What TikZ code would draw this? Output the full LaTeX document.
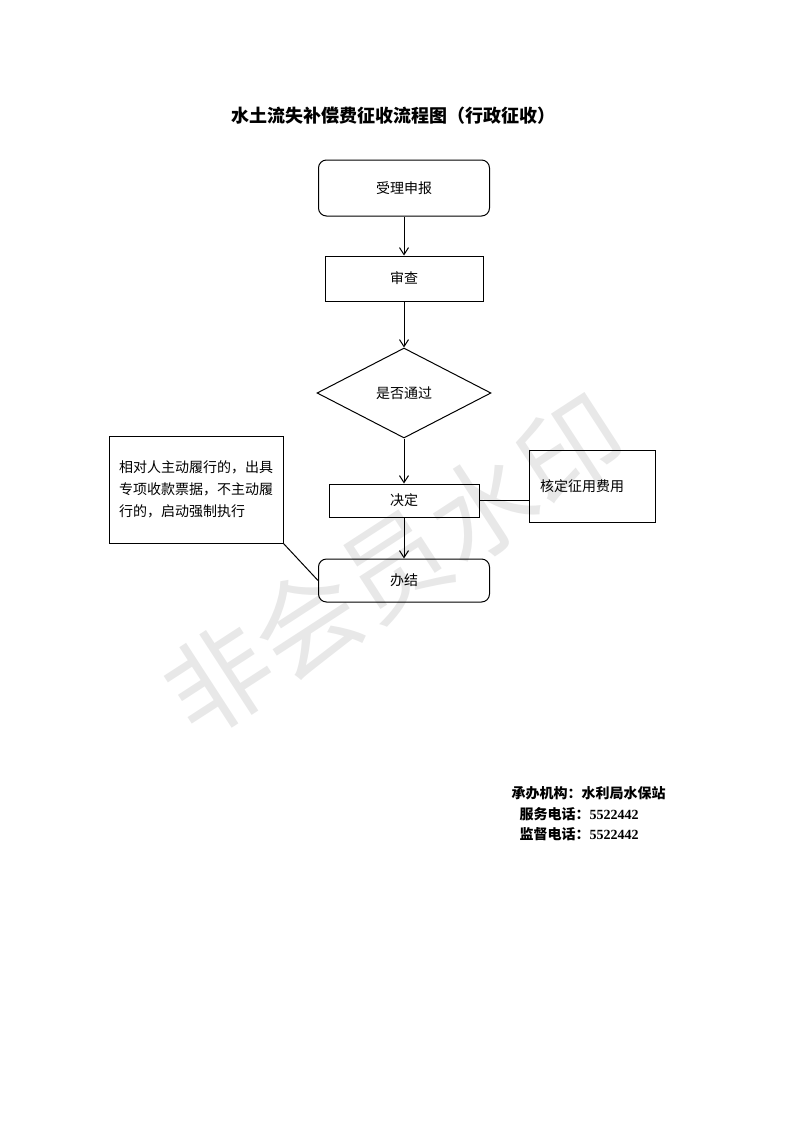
\documentclass[tikz,border=0pt]{standalone}
\usepackage{fontspec}
\setmainfont{Liberation Serif}
\newfontfamily\cjk{Noto Sans CJK SC}
\usetikzlibrary{positioning,arrows.meta,shapes.geometric}

\begin{document}
\begin{tikzpicture}[
    x=1pt, y=1pt,
    box/.style={draw, line width=1pt, minimum width=158pt, minimum height=45pt,
                inner sep=0pt, align=center, font=\cjk\fontsize{14}{16}\selectfont},
    rbox/.style={box, rounded corners=8pt},
    decide/.style={draw, diamond, line width=1pt, minimum width=174pt,
                   minimum height=90pt, aspect=1.93, inner sep=0pt,
                   font=\cjk\fontsize{14}{16}\selectfont},
    note/.style={draw, line width=1pt, inner sep=0pt, align=left,
                 font=\cjk\fontsize{14}{22}\selectfont},
    foot/.style={anchor=west, font=\cjk\bfseries\fontsize{14}{16}\selectfont},
    arrow/.style={-{Straight Barb[length=7pt,width=9pt]}, line width=1pt},
    link/.style={line width=1pt}
  ]
    \useasboundingbox (0,0) rectangle (793,-1122);
    % Watermark
    \node[rotate=33, text=gray!18, font=\cjk\fontsize{105}{105}\selectfont]
      (wm) at (395,-565) {非会员水印};
    % Title
    \node[font=\cjk\bfseries\fontsize{18}{20}\selectfont] (title) at (393,-116)
      {水土流失补偿费征收流程图（行政征收）};
    % Main flow
    \node[rbox, minimum width=171pt, minimum height=56pt] (slsb) at (404,-188)
      {受理申报};
    \node[box, below=39pt of slsb] (sc) {审查};
    \node[decide, below=46pt of sc] (sftg) {是否通过};
    \node[box, minimum width=150pt, minimum height=33pt, below=45pt of sftg] (jd)
      {决定};
    \node[rbox, minimum width=171pt, minimum height=43pt, below=41pt of jd] (bj)
      {办结};
    % Side notes
    \node[note, minimum width=174pt, minimum height=107pt, text width=154pt]
      (zdlx) at (196,-489.5)
      {相对人主动履行的，出具\\专项收款票据，不主动履\\行的，启动强制执行};
    \node[note, minimum width=126pt, minimum height=72pt, text width=104pt]
      (hdfy) at (592,-486) {核定征用费用};

    % Arrows
    \draw[arrow] (slsb) -- (sc);
    \draw[arrow] (sc) -- (sftg);
    \draw[arrow] (sftg) -- (jd);
    \draw[arrow] (jd) -- (bj);
    \draw[link] (jd.east) -- (jd.east -| hdfy.west);
    \draw[link] (zdlx.south east) -- (bj.west);

    % Footer
    \node[foot] (cbjg) at (508,-793) {承办机构：水利局水保站};
    \node[foot] (fwdh) at (516,-814) {服务电话：{\rmfamily\bfseries 5522442}};
    \node[foot] (jddh) at (516,-834) {监督电话：{\rmfamily\bfseries 5522442}};
\end{tikzpicture}
\end{document}
